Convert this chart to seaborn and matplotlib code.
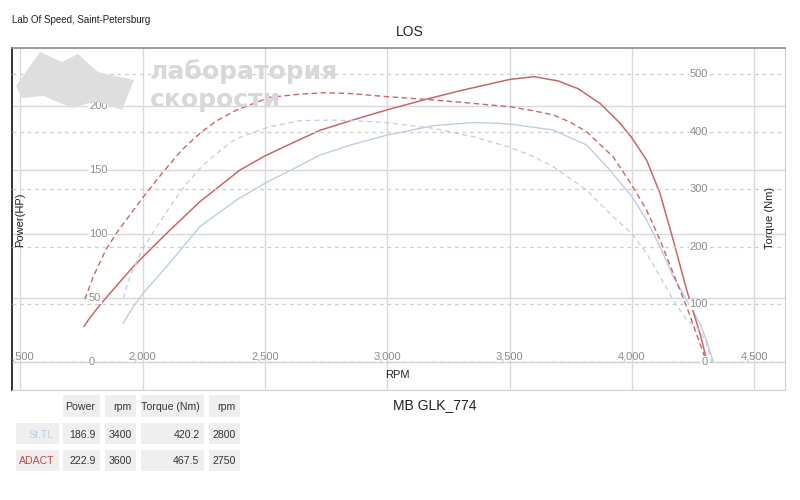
import numpy as np
import pandas as pd
import matplotlib
matplotlib.use("Agg")
import matplotlib.pyplot as plt
import matplotlib.transforms as mtransforms
from matplotlib.patches import Rectangle, Polygon
import seaborn as sns

# ADACT (red) - power in HP, torque in Nm
adact_power_rpm = [1760, 1778, 1825, 1900, 1962, 2002, 2098, 2234, 2398, 2500, 2600, 2725, 2850,
                   3000, 3154, 3300, 3502, 3600, 3700, 3780, 3870, 3952, 4000, 4060, 4115, 4169,
                   4224, 4278, 4308]
adact_power = [27.6, 32.8, 44.5, 61, 74.5, 82.3, 100.5, 125.2, 150, 161, 170, 181, 188.5,
               197, 205, 212, 220.8, 222.9, 219.5, 213.5, 202, 186.5, 175, 157.8, 131.8, 95.3,
               56.2, 22.4, 0]
adact_torque_rpm = [1764, 1800, 1850, 1900, 1960, 2000, 2084, 2160, 2234, 2300, 2384, 2520, 2643,
                    2750, 2850, 3000, 3154, 3325, 3502, 3600, 3679, 3750, 3815, 3924, 4000, 4060,
                    4115, 4169, 4224, 4278, 4305]
adact_torque = [108.9, 150, 195, 228, 262, 285, 330, 368, 397, 418, 437.5, 459.5, 465,
                467.5, 466, 460.6, 456, 450, 443, 436, 428.8, 416, 399.8, 356, 307, 264,
                211.8, 154, 96, 32.4, 0]

# St.TL (light blue)
sttl_power_rpm = [1921, 1928, 1962, 2002, 2098, 2234, 2384, 2500, 2643, 2725, 2850, 3000, 3188,
                  3352, 3400, 3502, 3600, 3679, 3815, 3910, 4000, 4060, 4115, 4169, 4224, 4278,
                  4305, 4333]
sttl_power = [30.2, 32.8, 43.2, 53.7, 74.5, 105.7, 126.6, 139.6, 153.5, 161.7, 169.5, 177.3, 184.6,
              187, 186.9, 185.9, 183.3, 181.2, 169.5, 150, 129.2, 111, 90, 66.7, 48.4, 30.2,
              17.2, 0]
sttl_torque_rpm = [1921, 1941, 1962, 2000, 2050, 2112, 2180, 2248, 2320, 2384, 2520, 2643, 2779,
                   2900, 3000, 3188, 3352, 3502, 3600, 3679, 3815, 3924, 4000, 4060, 4115, 4169,
                   4224, 4278, 4305, 4326]
sttl_torque = [110.6, 140, 162, 195, 230, 270, 310, 342, 368, 388, 408.5, 419, 420,
               418, 415.5, 405.7, 391, 372.7, 356, 339, 298.6, 252, 223, 188.7, 148, 107.6,
               73, 55.6, 32.4, 0]

# summary table
table_header = ["", "Power", "rpm", "Torque (Nm)", "rpm"]
table_names = ["St.TL", "ADACT"]
table_power = ["186.9", "222.9"]
table_power_rpm = ["3400", "3600"]
table_torque = ["420.2", "467.5"]
table_torque_rpm = ["2800", "2750"]

rpm_ticks = [1500, 2000, 2500, 3000, 3500, 4000, 4500]
hp_ticks = [0, 50, 100, 150, 200]
nm_ticks = [0, 100, 200, 300, 400, 500]

red = "#c96767"
blue = "#bccfe2"

sns.set_style("white")
plt.rcParams['font.family'] = ['Liberation Sans', 'DejaVu Sans']

W, H = 800, 500
fig = plt.figure(figsize=(8, 5), dpi=100)


def fx(px):
    return px / W


def fy(py):
    return 1 - py / H


ax = fig.add_axes([fx(12), fy(390), fx(785) - fx(12), fy(48) - fy(390)])
ax2 = ax.twinx()

# grid
ax.set_xticks(rpm_ticks)
ax.set_yticks(hp_ticks)
ax2.set_yticks(nm_ticks)
ax.grid(True, color="#d9d9d9", linewidth=1.0, linestyle="-")
ax2.grid(True, axis="y", color="#cfcfcf", linewidth=0.9, linestyle=(0, (3, 3)))
ax2.grid(False, axis="x")

# spines
ax.spines["left"].set_color("#333333")
ax.spines["left"].set_linewidth(1.4)
ax.spines["top"].set_color("#8a8a8a")
ax.spines["top"].set_linewidth(1.2)
for s in ("right", "bottom"):
    ax.spines[s].set_color("#d0d0d0")
for s in ax2.spines.values():
    s.set_visible(False)

# watermark logo
logo = Polygon([(fx(16), fy(86)), (fx(40), fy(52)), (fx(62), fy(62)), (fx(78), fy(54)),
                (fx(98), fy(72)), (fx(134), fy(80)), (fx(122), fy(110)), (fx(96), fy(101)),
                (fx(72), fy(108)), (fx(44), fy(96)), (fx(22), fy(98))],
               closed=True, transform=fig.transFigure, facecolor="#dedede",
               edgecolor="none", zorder=0.5)
fig.add_artist(logo)
fig.text(fx(150), fy(72), "лаборатория", fontsize=18, fontweight="bold", color="#d8d8d8",
         family="DejaVu Sans", va="center", ha="left", zorder=0.5)
fig.text(fx(150), fy(100), "скорости", fontsize=18, fontweight="bold", color="#d8d8d8",
         family="DejaVu Sans", va="center", ha="left", zorder=0.5)

# curves
sns.lineplot(x=sttl_power_rpm, y=sttl_power, ax=ax, color=blue, linewidth=1.0, sort=False)
sns.lineplot(x=adact_power_rpm, y=adact_power, ax=ax, color=red, linewidth=1.1, sort=False)
sns.lineplot(x=sttl_torque_rpm, y=sttl_torque, ax=ax2, color=blue, linewidth=0.9,
             linestyle=(0, (4, 3)), sort=False)
sns.lineplot(x=adact_torque_rpm, y=adact_torque, ax=ax2, color=red, linewidth=1.0,
             linestyle=(0, (4, 2.5)), sort=False)
ax.set_xlim(1466, 4626)
ax.set_ylim(-21.9, 245.3)
ax2.set_ylim(-48.6, 545.1)
for a in (ax, ax2):
    a.tick_params(left=False, right=False, bottom=False, labelleft=False,
                  labelright=False, labelbottom=False)
    a.set_xlabel("")
    a.set_ylabel("")

# inner tick labels
lbl = dict(fontsize=8, color="#8c8c8c", va="center")
for v in rpm_ticks:
    ax.text(v, 4, f"{v:,}", ha="center", clip_on=True, **lbl)
tl = mtransforms.blended_transform_factory(ax.transAxes, ax.transData)
for v in hp_ticks:
    ax.text((89 - 12) / 773, v, str(v), transform=tl, ha="left",
            bbox=dict(facecolor="white", edgecolor="none", pad=0.5), **lbl)
tr = mtransforms.blended_transform_factory(ax2.transAxes, ax2.transData)
for v in nm_ticks:
    ax2.text((708 - 12) / 773, v, str(v), transform=tr, ha="right",
             bbox=dict(facecolor="white", edgecolor="none", pad=0.5), **lbl)

# axis titles
fig.text(fx(20), fy(220), "Power(HP)", rotation=90, fontsize=8, color="#222222",
         ha="center", va="center")
fig.text(fx(770), fy(218), "Torque (Nm)", rotation=90, fontsize=8, color="#222222",
         ha="center", va="center")
fig.text(fx(397), fy(375), "RPM", fontsize=8, color="#222222", ha="center", va="center")
fig.text(fx(410), fy(32), "LOS", fontsize=10, color="#222222", ha="center", va="center")
fig.text(fx(12), fy(20), "Lab Of Speed, Saint-Petersburg", fontsize=7, color="#222222",
         ha="left", va="center")
fig.text(fx(435), fy(405), "MB GLK_774", fontsize=10, color="#222222", ha="center", va="center")

# summary table
col_edges = [(16, 58.7), (63.3, 100), (105.3, 136), (141.3, 204), (208.7, 240)]
row_edges = [(395, 417), (423, 444), (449.5, 471)]
rows = [table_header,
        [table_names[0], table_power[0], table_power_rpm[0], table_torque[0], table_torque_rpm[0]],
        [table_names[1], table_power[1], table_power_rpm[1], table_torque[1], table_torque_rpm[1]]]
name_colors = [blue, "#c84545"]
for r, (y0, y1) in enumerate(row_edges):
    for c, (x0, x1) in enumerate(col_edges):
        if r == 0 and c == 0:
            continue
        fig.add_artist(Rectangle((fx(x0), fy(y1)), fx(x1) - fx(x0), fy(y0) - fy(y1),
                                 transform=fig.transFigure, facecolor="#efefef",
                                 edgecolor="none"))
        color = "#333333"
        if c == 0:
            color = name_colors[r - 1]
        fig.text(fx(x1 - 4.5), fy((y0 + y1) / 2 + 1), rows[r][c], fontsize=7.6, color=color,
                 ha="right", va="center")

plt.savefig("out.png", dpi=100)
